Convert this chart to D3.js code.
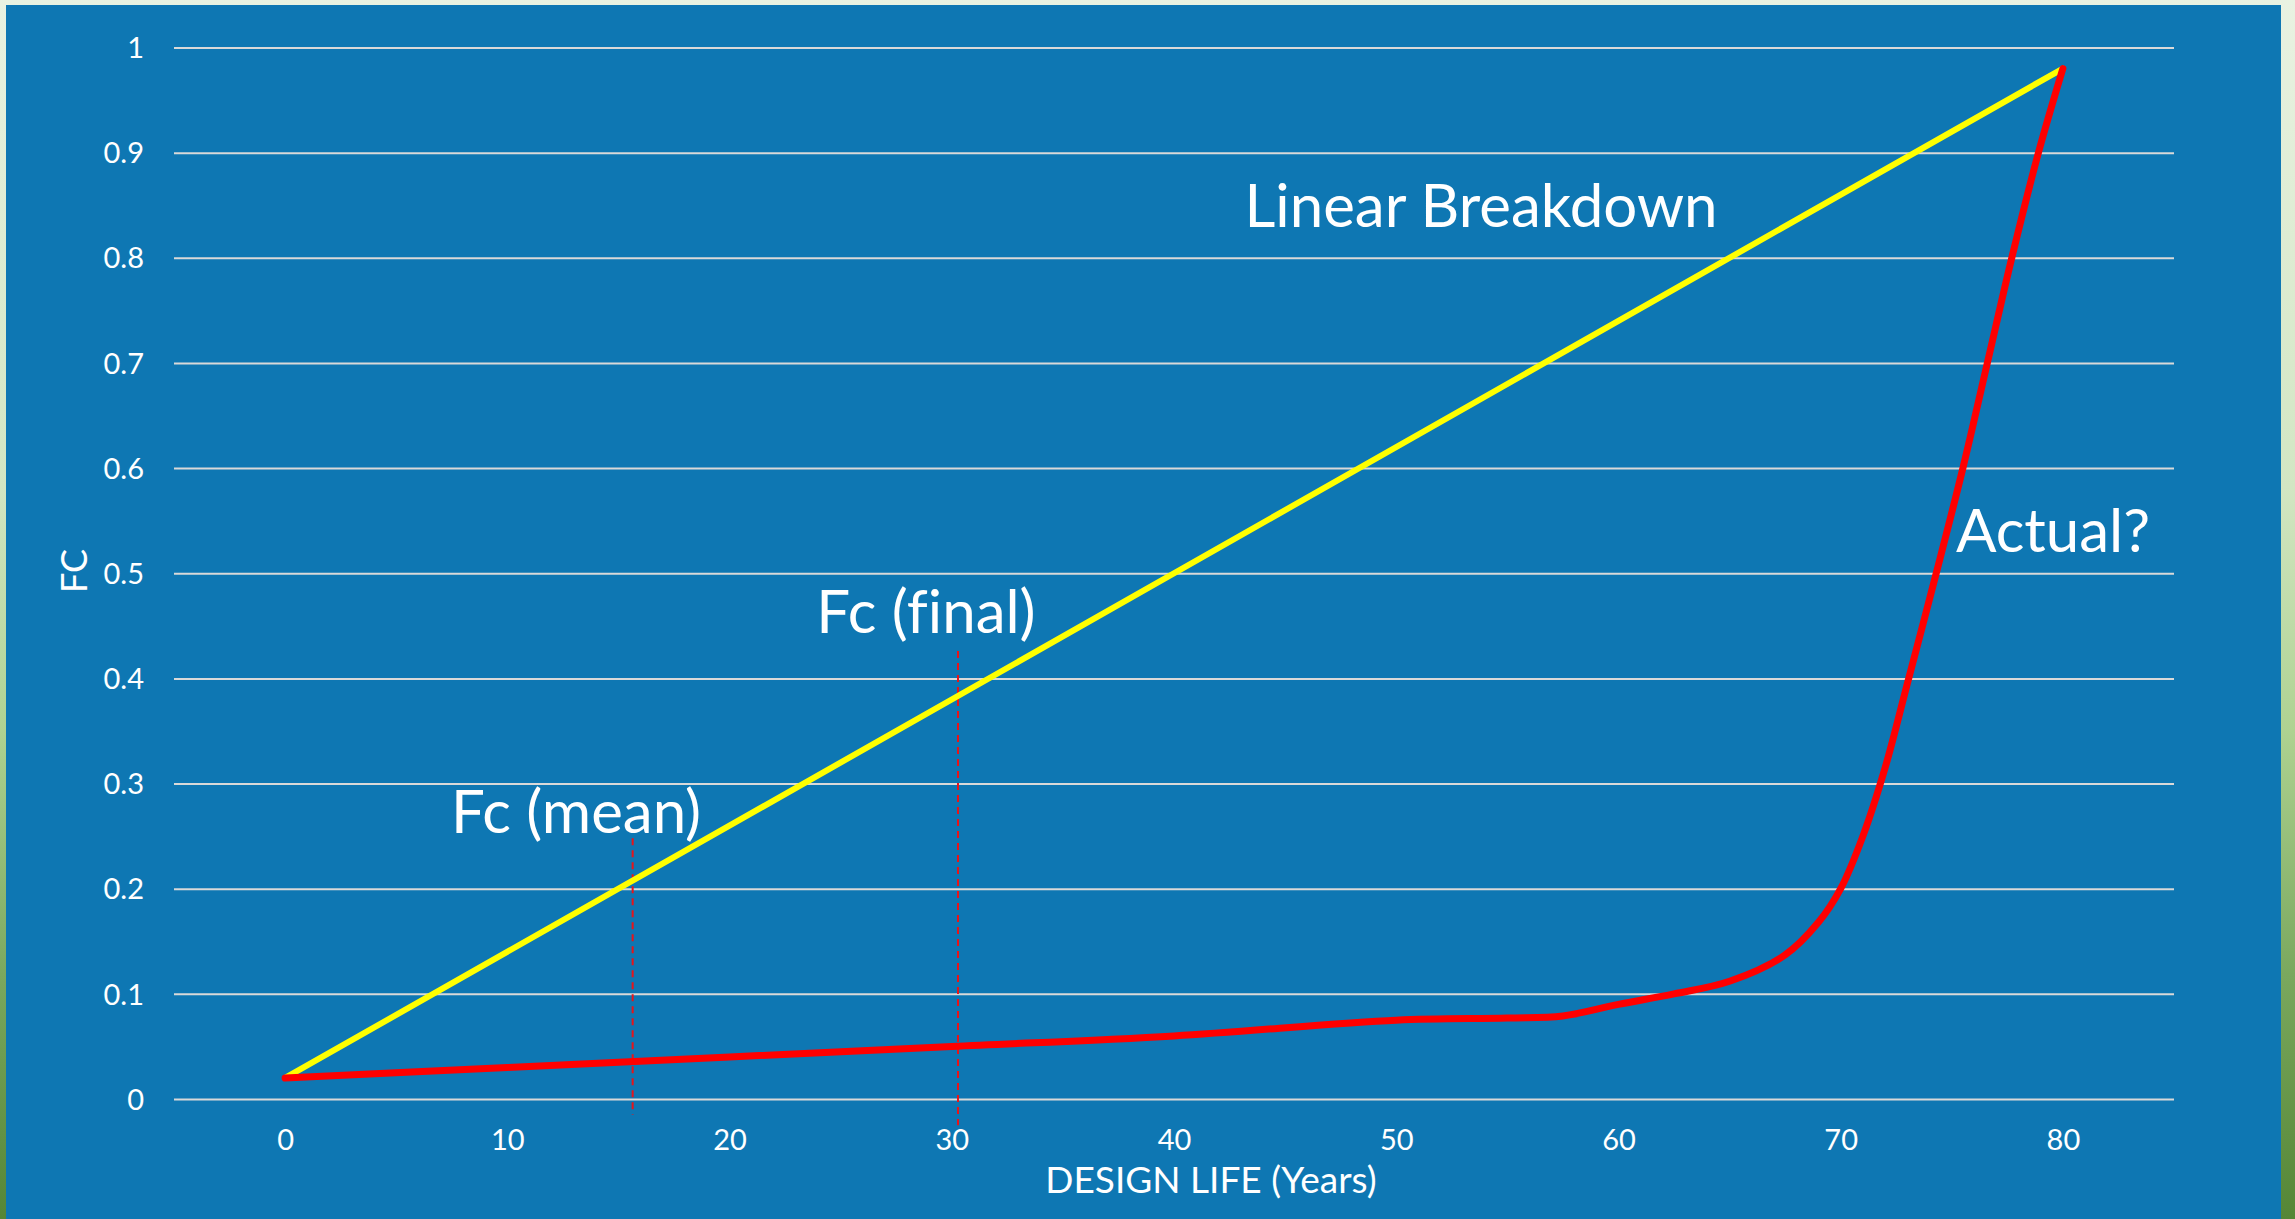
<!DOCTYPE html>
<html>
<head>
<meta charset="utf-8">
<script src="https://cdn.jsdelivr.net/npm/d3@7"></script>
<style>
  html, body { margin: 0; padding: 0; overflow: hidden; }
  svg { display: block; }
  text { font-family: Lato, "Open Sans", "Liberation Sans", sans-serif; fill: #ffffff; font-variant-ligatures: none; }
</style>
</head>
<body>
<svg id="chart" width="2295" height="1219"></svg>
<script>
// ---- data ----
const xTicks = [0, 10, 20, 30, 40, 50, 60, 70, 80];
const yTicks = [0, 0.1, 0.2, 0.3, 0.4, 0.5, 0.6, 0.7, 0.8, 0.9, 1];
const linearYears = [0, 80];
const linearFC = [0.02, 0.98];
const actualYears = [0, 10, 20, 30, 40, 50, 55, 57.5, 60, 62.5, 65, 67.5, 69, 70, 71, 72, 73, 74.3, 75.5, 76.6, 77.7, 78.9, 80];
const actualFC = [0.020, 0.030, 0.040, 0.050, 0.060, 0.075, 0.077, 0.079, 0.090, 0.100, 0.112, 0.137, 0.168, 0.200, 0.250, 0.315, 0.395, 0.500, 0.600, 0.700, 0.800, 0.900, 0.980];
const markerYears = [15.64, 30.28];
const markerTop = [0.248, 0.426];
const markerBottom = [-0.015, -0.025];
const labels = ["Linear Breakdown", "Actual?", "Fc (final)", "Fc (mean)"];
const xTitle = "DESIGN LIFE (Years)";
const yTitle = "FC";

// ---- drawing ----
const svg = d3.select("#chart");
const defs = svg.append("defs");
const grad = defs.append("linearGradient").attr("id", "bg").attr("x1", 0).attr("y1", 0).attr("x2", 0).attr("y2", 1);
grad.append("stop").attr("offset", "0%").attr("stop-color", "#e9f2e2");
grad.append("stop").attr("offset", "40%").attr("stop-color", "#d2e6c3");
grad.append("stop").attr("offset", "60%").attr("stop-color", "#aed291");
grad.append("stop").attr("offset", "80%").attr("stop-color", "#7aa85e");
grad.append("stop").attr("offset", "100%").attr("stop-color", "#558636");

svg.append("rect").attr("x", 0).attr("y", 0).attr("width", 2295).attr("height", 1219).attr("fill", "url(#bg)");
svg.append("rect").attr("x", 6).attr("y", 5).attr("width", 2275).attr("height", 1214).attr("fill", "#0e77b3");

const x = d3.scaleLinear().domain([-5, 85]).range([174, 2174]);
const y = d3.scaleLinear().domain([0, 1]).range([1099, 47.5]);

// gridlines + y tick labels
const yAxis = d3.axisLeft(y).tickValues(yTicks).tickSize(-(x.range()[1] - x.range()[0])).tickPadding(30)
  .tickFormat(d => d3.format("~g")(d));
const gy = svg.append("g").attr("transform", `translate(${x.range()[0]},0)`).call(yAxis);
gy.select(".domain").remove();
gy.selectAll(".tick line").attr("stroke", "#d9d9d9").attr("stroke-width", 2);
gy.selectAll(".tick text").attr("font-size", 29).attr("fill", "#ffffff").attr("x", -30).attr("dy", "0.35em")
  .style("font-family", "Lato, 'Open Sans', sans-serif");

// x tick labels
const xAxis = d3.axisBottom(x).tickValues(xTicks).tickSize(0).tickPadding(0).tickFormat(d3.format("d"));
const gx = svg.append("g").attr("transform", `translate(0,${y(0)})`).call(xAxis);
gx.select(".domain").remove();
gx.selectAll(".tick text").attr("font-size", 29).attr("fill", "#ffffff").attr("y", 51).attr("dy", 0)
  .style("font-family", "Lato, 'Open Sans', sans-serif");

// axis titles
svg.append("text").attr("x", 1211).attr("y", 1193).attr("text-anchor", "middle").attr("font-size", 37).text(xTitle);
svg.append("text").attr("transform", "translate(87,571) rotate(-90)").attr("text-anchor", "middle").attr("font-size", 36).text(yTitle);

// dashed markers
markerYears.forEach((yr, i) => {
  svg.append("line")
    .attr("x1", x(yr)).attr("x2", x(yr))
    .attr("y1", y(markerTop[i])).attr("y2", y(markerBottom[i]))
    .attr("stroke", "#e8141a").attr("stroke-width", 2).attr("stroke-dasharray", "7,5");
});

// linear breakdown line
const linearData = linearYears.map((d, i) => [d, linearFC[i]]);
svg.append("path").datum(linearData)
  .attr("d", d3.line().x(d => x(d[0])).y(d => y(d[1])))
  .attr("fill", "none").attr("stroke", "#ffff00").attr("stroke-width", 6).attr("stroke-linecap", "round");

// actual curve
const actualData = actualYears.map((d, i) => [d, actualFC[i]]);
svg.append("path").datum(actualData)
  .attr("d", d3.line().curve(d3.curveCatmullRom.alpha(0.5)).x(d => x(d[0])).y(d => y(d[1])))
  .attr("fill", "none").attr("stroke", "#ff0000").attr("stroke-width", 7).attr("stroke-linecap", "round").attr("stroke-linejoin", "round");

// annotation labels
const ann = [
  { t: labels[0], px: 1481, py: 227 },
  { t: labels[1], px: 2053, py: 552 },
  { t: labels[2], px: 926, py: 633 },
  { t: labels[3], px: 576, py: 833 }
];
svg.selectAll("text.ann").data(ann).enter().append("text").attr("class", "ann")
  .attr("x", d => d.px).attr("y", d => d.py).attr("text-anchor", "middle").attr("font-size", 60)
  .text(d => d.t);
</script>
</body>
</html>
